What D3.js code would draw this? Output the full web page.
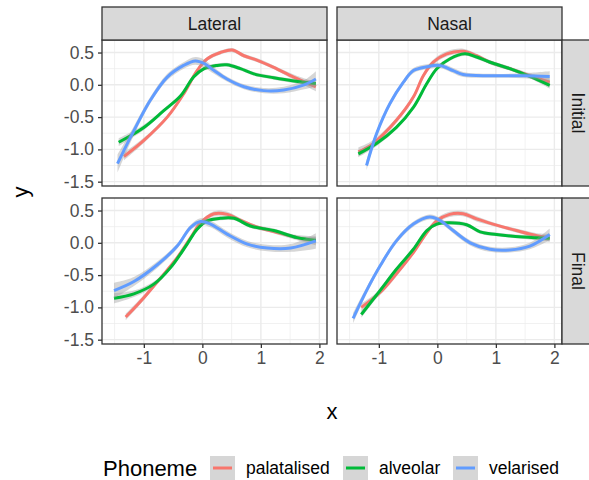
<!DOCTYPE html>
<html>
<head>
<meta charset="utf-8">
<script src="https://cdn.jsdelivr.net/npm/d3@7"></script>
<style>
  body { margin: 0; background: #fff; }
  svg text { font-family: "Liberation Sans", Arial, Helvetica, sans-serif; }
</style>
</head>
<body>
<div id="chart"></div>
<script>
// categories
var phonemes = ["palatalised", "alveolar", "velarised"];
var colours = ["#F8766D", "#00BA38", "#619CFF"];
var contexts = ["Lateral", "Nasal"];
var positions = ["Initial", "Final"];
var xTicks = [-1, 0, 1, 2];
var yTicks = [-1.5, -1.0, -0.5, 0.0, 0.5];

// smoothed curves, [x, y, se]
var latInitPal = [[-1.34,-1.11,0.06],[-1.0,-0.86,0.04],[-0.6,-0.50,0.03],[-0.32,-0.14,0.03],[-0.09,0.22,0.03],[0.08,0.40,0.03],[0.31,0.50,0.03],[0.51,0.54,0.03],[0.71,0.45,0.03],[0.94,0.38,0.03],[1.22,0.27,0.03],[1.56,0.12,0.04],[1.94,-0.03,0.07]];
var latInitAlv = [[-1.43,-0.89,0.06],[-1.0,-0.66,0.04],[-0.66,-0.40,0.03],[-0.37,-0.17,0.03],[-0.15,0.12,0.03],[0.03,0.25,0.03],[0.25,0.30,0.03],[0.42,0.31,0.03],[0.65,0.25,0.03],[0.88,0.17,0.03],[1.22,0.11,0.03],[1.56,0.06,0.03],[1.94,0.02,0.05]];
var latInitVel = [[-1.45,-1.22,0.14],[-1.17,-0.71,0.07],[-0.89,-0.24,0.05],[-0.60,0.12,0.05],[-0.32,0.30,0.05],[-0.12,0.37,0.06],[0.03,0.33,0.06],[0.20,0.22,0.05],[0.42,0.09,0.04],[0.71,-0.03,0.04],[1.05,-0.09,0.04],[1.39,-0.08,0.05],[1.74,0.00,0.07],[1.94,0.09,0.12]];

var nasInitPal = [[-1.35,-1.04,0.07],[-1.10,-0.91,0.05],[-0.70,-0.55,0.04],[-0.41,-0.19,0.04],[-0.24,0.14,0.04],[-0.07,0.35,0.04],[0.16,0.48,0.04],[0.44,0.52,0.04],[0.67,0.45,0.03],[0.90,0.35,0.03],[1.24,0.25,0.03],[1.58,0.14,0.04],[1.92,0.04,0.07]];
var nasInitAlv = [[-1.35,-1.07,0.05],[-1.04,-0.91,0.04],[-0.70,-0.66,0.03],[-0.41,-0.35,0.03],[-0.18,0.02,0.03],[-0.01,0.25,0.03],[0.21,0.40,0.03],[0.47,0.48,0.03],[0.67,0.43,0.03],[0.90,0.35,0.03],[1.24,0.25,0.03],[1.58,0.13,0.03],[1.92,-0.01,0.05]];
var nasInitVel = [[-1.21,-1.25,0.08],[-1.04,-0.76,0.05],[-0.81,-0.29,0.04],[-0.58,0.04,0.04],[-0.41,0.22,0.04],[-0.18,0.28,0.04],[0.04,0.30,0.04],[0.27,0.22,0.04],[0.44,0.16,0.04],[0.90,0.14,0.03],[1.47,0.14,0.04],[1.92,0.13,0.08]];

var latFinPal = [[-1.31,-1.15,0.05],[-1.0,-0.85,0.04],[-0.71,-0.54,0.03],[-0.43,-0.23,0.03],[-0.20,0.08,0.03],[-0.03,0.31,0.03],[0.20,0.45,0.04],[0.43,0.44,0.04],[0.65,0.35,0.03],[0.88,0.26,0.03],[1.28,0.16,0.03],[1.62,0.08,0.04],[1.94,0.03,0.07]];
var latFinAlv = [[-1.51,-0.86,0.08],[-1.17,-0.79,0.05],[-0.83,-0.64,0.04],[-0.54,-0.38,0.03],[-0.26,-0.02,0.03],[-0.09,0.21,0.03],[0.08,0.34,0.03],[0.31,0.38,0.03],[0.54,0.38,0.03],[0.82,0.26,0.03],[1.22,0.19,0.03],[1.62,0.08,0.03],[1.94,0.04,0.05]];
var latFinVel = [[-1.51,-0.74,0.12],[-1.17,-0.60,0.07],[-0.77,-0.34,0.05],[-0.43,-0.05,0.04],[-0.20,0.24,0.04],[-0.03,0.33,0.05],[0.14,0.29,0.05],[0.43,0.13,0.05],[0.77,-0.02,0.05],[1.11,-0.08,0.05],[1.51,-0.08,0.06],[1.94,0.03,0.12]];

var nasFinPal = [[-1.30,-1.00,0.06],[-0.98,-0.77,0.04],[-0.70,-0.48,0.04],[-0.41,-0.15,0.03],[-0.18,0.16,0.04],[-0.01,0.34,0.04],[0.21,0.44,0.04],[0.44,0.45,0.04],[0.67,0.37,0.04],[0.95,0.29,0.03],[1.35,0.19,0.03],[1.70,0.11,0.04],[1.92,0.08,0.06]];
var nasFinAlv = [[-1.30,-1.11,0.05],[-0.98,-0.74,0.04],[-0.70,-0.41,0.03],[-0.41,-0.10,0.03],[-0.18,0.19,0.03],[-0.01,0.29,0.03],[0.21,0.31,0.03],[0.50,0.28,0.03],[0.73,0.17,0.03],[1.01,0.13,0.03],[1.47,0.09,0.03],[1.92,0.07,0.05]];
var nasFinVel = [[-1.44,-1.17,0.08],[-1.21,-0.74,0.05],[-0.98,-0.36,0.04],[-0.70,0.03,0.04],[-0.41,0.29,0.04],[-0.13,0.40,0.04],[0.04,0.35,0.04],[0.27,0.19,0.04],[0.56,0.00,0.04],[0.90,-0.10,0.04],[1.24,-0.11,0.04],[1.58,-0.05,0.05],[1.92,0.13,0.09]];

var panels = [
  {ctx: "Lateral", pos: "Initial", col: 0, row: 0, series: [latInitPal, latInitAlv, latInitVel]},
  {ctx: "Nasal",   pos: "Initial", col: 1, row: 0, series: [nasInitPal, nasInitAlv, nasInitVel]},
  {ctx: "Lateral", pos: "Final",   col: 0, row: 1, series: [latFinPal, latFinAlv, latFinVel]},
  {ctx: "Nasal",   pos: "Final",   col: 1, row: 1, series: [nasFinPal, nasFinAlv, nasFinVel]}
];

var W = 589, H = 480;
var panelLeft = [102, 337], panelTop = [40, 198];
var pw = 225, ph = 146;
var stripH = 33;

var svg = d3.select("#chart").append("svg")
  .attr("width", W).attr("height", H);

var x = d3.scaleLinear().domain([-1.715, 2.13]).range([0, pw]);
var y = d3.scaleLinear().domain([-1.567, 0.694]).range([ph, 0]);

var xMinor = [-1.5, -0.5, 0.5, 1.5];
var yMinor = [-1.25, -0.75, -0.25, 0.25];

var defs = svg.append("defs");
defs.append("clipPath").attr("id", "clipPanel")
  .append("rect").attr("width", pw).attr("height", ph);

var line = d3.line().x(function(d){ return x(d[0]); }).y(function(d){ return y(d[1]); })
  .curve(d3.curveCatmullRom.alpha(0.5));
var band = d3.area().x(function(d){ return x(d[0]); })
  .y0(function(d){ return y(d[1] - d[2]); })
  .y1(function(d){ return y(d[1] + d[2]); })
  .curve(d3.curveCatmullRom.alpha(0.5));

panels.forEach(function(p){
  var g = svg.append("g")
    .attr("transform", "translate(" + panelLeft[p.col] + "," + panelTop[p.row] + ")");

  g.append("rect").attr("width", pw).attr("height", ph).attr("fill", "#fff");

  var grid = g.append("g");
  xMinor.forEach(function(v){
    grid.append("line").attr("x1", x(v)).attr("x2", x(v)).attr("y1", 0).attr("y2", ph)
      .attr("stroke", "#EBEBEB").attr("stroke-width", 0.7);
  });
  yMinor.forEach(function(v){
    grid.append("line").attr("y1", y(v)).attr("y2", y(v)).attr("x1", 0).attr("x2", pw)
      .attr("stroke", "#EBEBEB").attr("stroke-width", 0.7);
  });
  xTicks.forEach(function(v){
    grid.append("line").attr("x1", x(v)).attr("x2", x(v)).attr("y1", 0).attr("y2", ph)
      .attr("stroke", "#EBEBEB").attr("stroke-width", 1.4);
  });
  yTicks.forEach(function(v){
    grid.append("line").attr("y1", y(v)).attr("y2", y(v)).attr("x1", 0).attr("x2", pw)
      .attr("stroke", "#EBEBEB").attr("stroke-width", 1.4);
  });

  var marks = g.append("g").attr("clip-path", "url(#clipPanel)");
  p.series.forEach(function(s, i){
    marks.append("path").attr("d", band(s))
      .attr("fill", "#999999").attr("fill-opacity", 0.4);
    marks.append("path").attr("d", line(s))
      .attr("fill", "none").attr("stroke", colours[i])
      .attr("stroke-width", 3).attr("stroke-linejoin", "round");
  });

  g.append("rect").attr("width", pw).attr("height", ph)
    .attr("fill", "none").attr("stroke", "#333333").attr("stroke-width", 1.3);

  // y axis on the left column
  if (p.col === 0) {
    var ya = g.append("g").call(d3.axisLeft(y).tickValues(yTicks).tickFormat(d3.format(".1f"))
      .tickSize(4).tickPadding(4));
    ya.select(".domain").remove();
    ya.selectAll(".tick line").attr("stroke", "#333333").attr("stroke-width", 1.3);
    ya.selectAll(".tick text").attr("fill", "#4D4D4D").style("font-size", "17.5px")
      .text(function(d){ return d3.format(".1f")(d).replace("\u2212", "-"); });
  }
  // x axis on the bottom row
  if (p.row === 1) {
    var xa = g.append("g").attr("transform", "translate(0," + ph + ")")
      .call(d3.axisBottom(x).tickValues(xTicks).tickSize(4).tickPadding(4));
    xa.select(".domain").remove();
    xa.selectAll(".tick line").attr("stroke", "#333333").attr("stroke-width", 1.3);
    xa.selectAll(".tick text").attr("fill", "#4D4D4D").style("font-size", "17.5px")
      .text(function(d){ return String(d); });
  }
  // top strips
  if (p.row === 0) {
    g.append("rect").attr("x", 0).attr("y", -stripH).attr("width", pw).attr("height", stripH)
      .attr("fill", "#D9D9D9").attr("stroke", "#333333").attr("stroke-width", 1.3);
    g.append("text").attr("x", pw / 2).attr("y", -stripH / 2).attr("dy", "0.35em")
      .attr("text-anchor", "middle").attr("fill", "#1A1A1A").style("font-size", "17.5px")
      .text(p.ctx);
  }
  // right strips
  if (p.col === 1) {
    g.append("rect").attr("x", pw).attr("y", 0).attr("width", stripH).attr("height", ph)
      .attr("fill", "#D9D9D9").attr("stroke", "#333333").attr("stroke-width", 1.3);
    g.append("text").attr("transform", "translate(" + (pw + stripH / 2) + "," + (ph / 2) + ") rotate(90)")
      .attr("dy", "0.35em").attr("text-anchor", "middle").attr("fill", "#1A1A1A")
      .style("font-size", "17.5px").text(p.pos);
  }
});

// axis titles
svg.append("text").attr("x", 332).attr("y", 411).attr("dy", "0.35em")
  .attr("text-anchor", "middle").style("font-size", "22px").text("x");
svg.append("text").attr("transform", "translate(20,192) rotate(-90)").attr("dy", "0.35em")
  .attr("text-anchor", "middle").style("font-size", "22px").text("y");

// legend
var legend = svg.append("g").attr("transform", "translate(0,468)");
legend.append("text").attr("x", 103).attr("dy", "0.35em").style("font-size", "22px").text("Phoneme");
var keyX = [210, 343, 453];
phonemes.forEach(function(name, i){
  var k = legend.append("g").attr("transform", "translate(" + keyX[i] + ",0)");
  k.append("rect").attr("x", 0).attr("y", -12).attr("width", 25).attr("height", 25)
    .attr("fill", "#999999").attr("fill-opacity", 0.4);
  k.append("line").attr("x1", 3).attr("x2", 22).attr("y1", 0).attr("y2", 0)
    .attr("stroke", colours[i]).attr("stroke-width", 3);
  k.append("text").attr("x", 36).attr("dy", "0.35em").style("font-size", "17.5px")
    .attr("fill", "#000").text(name);
});
</script>
</body>
</html>
